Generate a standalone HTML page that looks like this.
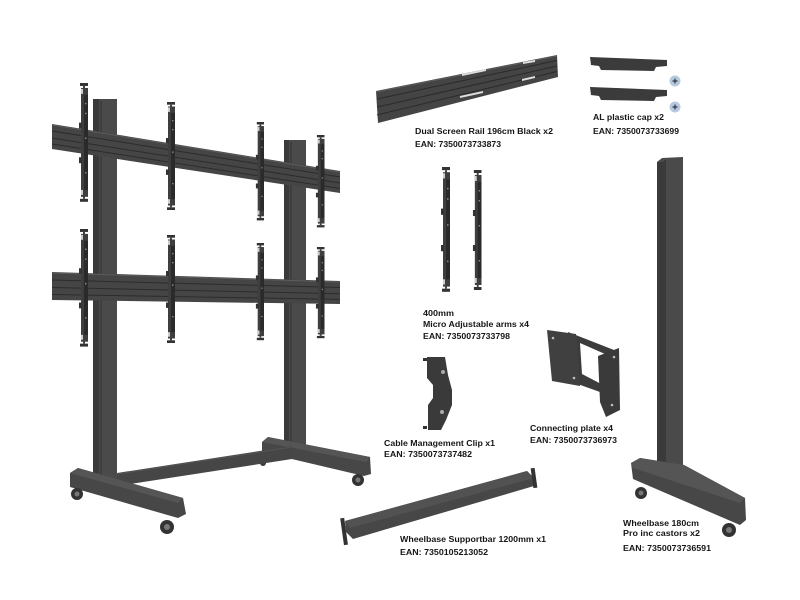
<!DOCTYPE html>
<html><head><meta charset="utf-8"><style>
html,body{margin:0;padding:0;background:#fff;}
svg{display:block;}
text{font-family:"Liberation Sans",Arial,sans-serif;font-weight:bold;font-size:8.6px;fill:#151515;}
</style></head><body>
<svg width="800" height="600" viewBox="0 0 800 600" xmlns="http://www.w3.org/2000/svg">
<defs>
<g id="arm">
  <rect x="2" y="0" width="8" height="3" fill="#333"/>
  <rect x="5" y="3" width="2" height="3" fill="#444"/>
  <rect x="3" y="5" width="7" height="110" fill="#3e3e3e"/>
  <rect x="6" y="12" width="4" height="96" fill="#2a2a2a"/>
  <rect x="3" y="6" width="2" height="5" fill="#cfcfcf"/>
  <rect x="3" y="108" width="2" height="5" fill="#cfcfcf"/>
  <rect x="1" y="40" width="3" height="6" fill="#333"/>
  <rect x="1" y="75" width="3" height="6" fill="#333"/>
  <rect x="7" y="20" width="1.5" height="1.5" fill="#888"/>
  <rect x="7" y="30" width="1.5" height="1.5" fill="#888"/>
  <rect x="7" y="55" width="1.5" height="1.5" fill="#888"/>
  <rect x="7" y="90" width="1.5" height="1.5" fill="#888"/>
  <rect x="5" y="114" width="2" height="3" fill="#444"/>
  <rect x="2" y="117" width="8" height="3" fill="#333"/>
</g>
</defs>

<!-- MAIN STAND -->
<!-- right post -->
<rect x="284" y="140" width="22" height="317" fill="#4a4a4a"/>
<rect x="284" y="140" width="5" height="317" fill="#3a3a3a"/>
<line x1="291" y1="142" x2="291" y2="457" stroke="#2e2e2e" stroke-width="0.8"/>
<!-- left post -->
<rect x="93" y="99" width="24" height="381" fill="#4a4a4a"/>
<rect x="93" y="99" width="6" height="381" fill="#3a3a3a"/>
<line x1="101" y1="101" x2="101" y2="480" stroke="#2e2e2e" stroke-width="0.8"/>

<!-- upper rail -->
<polygon points="52,124 340,171 340,193 52,149" fill="#454545"/>
<line x1="52" y1="131" x2="340" y2="177" stroke="#2c2c2c" stroke-width="1"/>
<line x1="52" y1="138" x2="340" y2="183" stroke="#2c2c2c" stroke-width="1"/>
<line x1="52" y1="144" x2="340" y2="188.5" stroke="#2c2c2c" stroke-width="1"/>
<line x1="52" y1="125" x2="340" y2="172" stroke="#5c5c5c" stroke-width="1"/>
<!-- lower rail -->
<polygon points="52,272 340,281 340,304 52,300" fill="#454545"/>
<line x1="52" y1="280" x2="340" y2="287.5" stroke="#2c2c2c" stroke-width="1"/>
<line x1="52" y1="287.5" x2="340" y2="293.7" stroke="#2c2c2c" stroke-width="1"/>
<line x1="52" y1="294.5" x2="340" y2="299.4" stroke="#2c2c2c" stroke-width="1"/>
<line x1="52" y1="273" x2="340" y2="282" stroke="#5c5c5c" stroke-width="1"/>

<!-- arms upper -->
<use href="#arm" transform="translate(78,83) scale(1,0.99)"/>
<use href="#arm" transform="translate(165,102) scale(1,0.9)"/>
<use href="#arm" transform="translate(255,122) scale(0.9,0.82)"/>
<use href="#arm" transform="translate(315,135) scale(0.95,0.77)"/>
<!-- arms lower -->
<use href="#arm" transform="translate(78,229) scale(1,0.98)"/>
<use href="#arm" transform="translate(165,235) scale(1,0.9)"/>
<use href="#arm" transform="translate(255,243) scale(0.9,0.81)"/>
<use href="#arm" transform="translate(315,247) scale(0.95,0.76)"/>

<!-- base: right foot -->
<polygon points="262,442 268,437 370,457 371,474 364,476 262,452" fill="#474747"/>
<polygon points="262,442 268,437 370,457 366,462" fill="#555"/>
<circle cx="263" cy="463" r="3" fill="#3a3a3a"/>
<circle cx="358" cy="480" r="6" fill="#333"/>
<circle cx="358" cy="480" r="2.5" fill="#777"/>
<!-- crossbar -->
<polygon points="117,473 292,446 292,459 117,486" fill="#464646"/>
<line x1="117" y1="474" x2="292" y2="447" stroke="#555" stroke-width="1"/>
<!-- left foot -->
<polygon points="70,473 78,468 183,498 186,514 178,518 70,487" fill="#474747"/>
<polygon points="70,473 78,468 183,498 178,503" fill="#555"/>
<circle cx="77" cy="494" r="6" fill="#333"/>
<circle cx="77" cy="494" r="2.5" fill="#777"/>
<circle cx="167" cy="527" r="7" fill="#333"/>
<circle cx="167" cy="527" r="3" fill="#777"/>

<!-- RAIL PART -->
<polygon points="376,91 557,55 558,77 378,123" fill="#444"/>
<line x1="377" y1="99" x2="557" y2="60.5" stroke="#2a2a2a" stroke-width="1"/>
<line x1="377" y1="107" x2="557" y2="66" stroke="#2a2a2a" stroke-width="1"/>
<line x1="377" y1="115" x2="557" y2="71.5" stroke="#2a2a2a" stroke-width="1"/>
<line x1="376" y1="92" x2="557" y2="56" stroke="#5e5e5e" stroke-width="1"/>
<polygon points="462,74 486,69 486,71 462,76" fill="#ddd"/>
<polygon points="523,62 535,60 535,62 523,64" fill="#ddd"/>
<polygon points="460,96 483,91 483,93 460,98" fill="#ddd"/>
<polygon points="522,79 535,76 535,78 522,81" fill="#ddd"/>

<!-- caps -->
<polygon points="590,57 667,60 667,66 656,67 654,71 601,70 599,66 591,65" fill="#3b3b3b"/>
<polygon points="590,87 667,90 667,96 656,97 654,101 601,100 599,96 591,95" fill="#3b3b3b"/>
<circle cx="675" cy="81" r="5.5" fill="#b5cade"/>
<path d="M672.5 81h5M675 78.5v5" stroke="#334" stroke-width="1.2"/>
<circle cx="675" cy="107" r="5.5" fill="#b5cade"/>
<path d="M672.5 107h5M675 104.5v5" stroke="#334" stroke-width="1.2"/>

<!-- micro arms -->
<use href="#arm" transform="translate(440,167) scale(1,1.04)"/>
<use href="#arm" transform="translate(472,170) scale(0.95,1)"/>

<!-- cable clip -->
<path d="M427,357 L445,357 L448,375 L452,390 L452,405 L446,420 L441,430 L428,430 L428,405 L433,398 L433,385 L427,378 Z" fill="#3a3a3a"/>
<circle cx="443" cy="372" r="2" fill="#aaa"/>
<circle cx="442" cy="412" r="2" fill="#aaa"/>
<rect x="423" y="358" width="4" height="3" fill="#333"/>
<rect x="423" y="426" width="4" height="3" fill="#333"/>

<!-- connecting plate -->
<path fill-rule="evenodd" d="M568,332 L614,350 L614,397 L572,382 Z M580,343 L605,354 L605,386 L582,374 Z" fill="#3c3c3c"/>
<polygon points="547,330 576,334 580,386 552,381" fill="#404040"/>
<polygon points="598,356 619,348 620,410 606,417 600,402" fill="#3a3a3a"/>
<circle cx="553" cy="338" r="1.3" fill="#bbb"/><circle cx="574" cy="378" r="1.3" fill="#bbb"/>
<circle cx="614" cy="357" r="1.3" fill="#bbb"/><circle cx="612" cy="405" r="1.3" fill="#bbb"/>

<!-- support bar -->
<polygon points="345,521 527,471 534,478 534,486 353,539 346,532" fill="#474747"/>
<polygon points="345,521 527,471 534,478 350,528" fill="#525252"/>
<rect x="342" y="518" width="4" height="27" fill="#333" transform="rotate(-8 344 531)"/>
<rect x="532" y="468" width="4" height="20" fill="#333" transform="rotate(-8 534 478)"/>

<!-- wheelbase part -->
<polygon points="657,162 662,158 683,157 683,476 657,476" fill="#4a4a4a"/>
<rect x="657" y="162" width="7" height="314" fill="#3a3a3a"/>
<line x1="665" y1="160" x2="665" y2="476" stroke="#2c2c2c" stroke-width="1"/>
<polygon points="631,463 640,458 684,465 745,498 746,520 740,525 633,479" fill="#474747"/>
<polygon points="631,463 640,458 684,465 745,498 740,503 633,468" fill="#555"/>
<circle cx="641" cy="493" r="6" fill="#333"/>
<circle cx="641" cy="493" r="2.5" fill="#777"/>
<circle cx="729" cy="530" r="7" fill="#333"/>
<circle cx="729" cy="530" r="3" fill="#777"/>

<!-- TEXT -->
<text x="415" y="134" textLength="138" lengthAdjust="spacingAndGlyphs">Dual Screen Rail 196cm Black x2</text>
<text x="415" y="147" textLength="86" lengthAdjust="spacingAndGlyphs">EAN: 7350073733873</text>
<text x="593" y="120" textLength="71" lengthAdjust="spacingAndGlyphs">AL plastic cap x2</text>
<text x="593" y="134" textLength="86" lengthAdjust="spacingAndGlyphs">EAN: 7350073733699</text>
<text x="423" y="316" textLength="31" lengthAdjust="spacingAndGlyphs">400mm</text>
<text x="423" y="327" textLength="106" lengthAdjust="spacingAndGlyphs">Micro Adjustable arms x4</text>
<text x="423" y="339" textLength="87" lengthAdjust="spacingAndGlyphs">EAN: 7350073733798</text>
<text x="384" y="446" textLength="111" lengthAdjust="spacingAndGlyphs">Cable Management Clip x1</text>
<text x="384" y="457" textLength="88" lengthAdjust="spacingAndGlyphs">EAN: 7350073737482</text>
<text x="530" y="431" textLength="83" lengthAdjust="spacingAndGlyphs">Connecting plate x4</text>
<text x="530" y="443" textLength="87" lengthAdjust="spacingAndGlyphs">EAN: 7350073736973</text>
<text x="400" y="542" textLength="146" lengthAdjust="spacingAndGlyphs">Wheelbase Supportbar 1200mm x1</text>
<text x="400" y="555" textLength="88" lengthAdjust="spacingAndGlyphs">EAN: 7350105213052</text>
<text x="623" y="526" textLength="76" lengthAdjust="spacingAndGlyphs">Wheelbase 180cm</text>
<text x="623" y="536" textLength="77" lengthAdjust="spacingAndGlyphs">Pro inc castors x2</text>
<text x="623" y="551" textLength="88" lengthAdjust="spacingAndGlyphs">EAN: 7350073736591</text>
</svg>
</body></html>
